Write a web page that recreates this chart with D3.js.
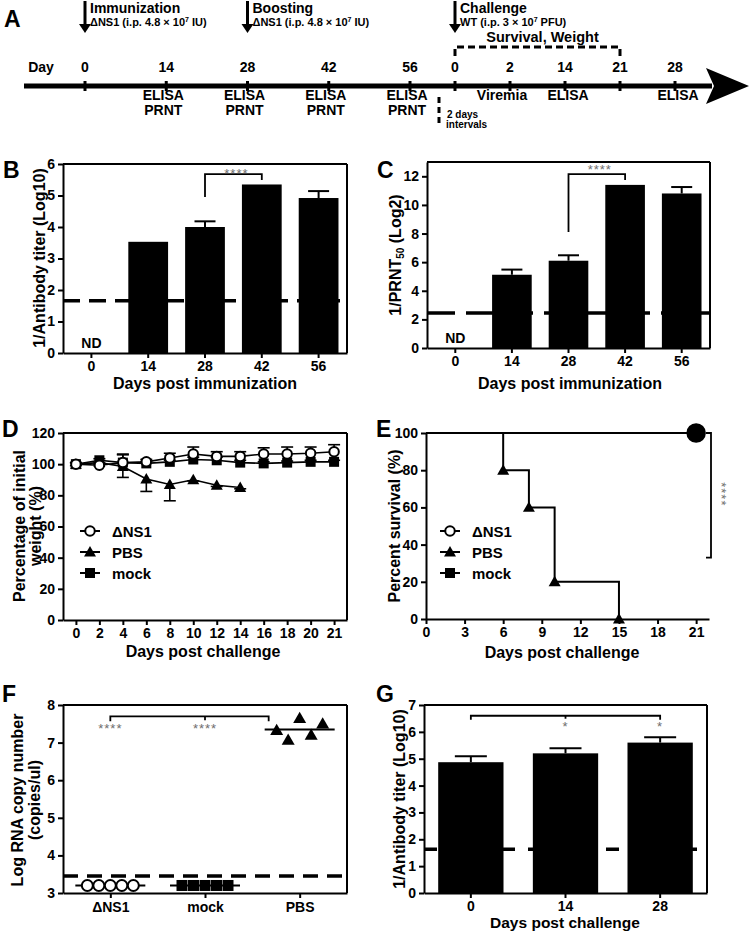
<!DOCTYPE html>
<html><head><meta charset="utf-8">
<script src="https://cdn.jsdelivr.net/npm/d3@7"></script>
<style>body{margin:0;background:#fff}</style>
</head><body>
<svg id="fig" width="750" height="931" xmlns="http://www.w3.org/2000/svg"></svg>
<script>
// ================= DATA =================
// Panel A timeline
const preDays = [0, 14, 28, 42, 56];
const preAssays = [[], ["ELISA","PRNT"], ["ELISA","PRNT"], ["ELISA","PRNT"], ["ELISA","PRNT"]];
const postDays = ["0", "2", "14", "21", "28"];
const postAssays = [[], ["Viremia"], ["ELISA"], [], ["ELISA"]];
const events = [
  {phase:"pre", day:0, title:"Immunization", sub:["ΔNS1 (i.p. 4.8 × 10","7"," IU)"]},
  {phase:"pre", day:28, title:"Boosting", sub:["ΔNS1 (i.p. 4.8 × 10","7"," IU)"]},
  {phase:"post", day:"0", title:"Challenge", sub:["WT (i.p. 3 × 10","7"," PFU)"]}
];

// Panel B (ELISA titer, log10)
const immunCats = ["0", "14", "28", "42", "56"];
const elisaTiter = [0, 3.53, 4.0, 5.35, 4.92];
const elisaErr = [0, 0, 0.18, 0, 0.22];
const elisaLOD = 1.66;
const yTicksB = [0, 1, 2, 3, 4, 5, 6];

// Panel C (PRNT50, log2)
const prntTiter = [0, 5.12, 6.1, 11.4, 10.8];
const prntErr = [0, 0.36, 0.38, 0, 0.45];
const prntLOD = 2.45;
const yTicksC = [0, 2, 4, 6, 8, 10, 12];

// Panel D (weight %)
const weightDays = ["0","2","4","6","8","10","12","14","16","18","20","21"];
const weightDNS1 = [100, 99.3, 101, 101.5, 104, 106.5, 105, 105, 106.5, 106.5, 107, 108];
const weightDNS1Err = [1, 1.5, 5.5, 1.5, 3, 4.5, 3, 3, 4, 4.5, 4, 4.5];
const weightMock = [100, 102.5, 101, 100.5, 101.5, 103, 102.5, 101, 100.5, 101, 101.5, 101.5];
const weightMockErr = [1, 1, 5, 1, 1, 1.5, 2, 1.5, 1, 1, 1, 1];
const weightPBS = [100, 101, 98.5, 90.5, 87, 90, 86.5, 85];
const weightPBSErr = [1, 1, 7, 8, 10.5, 0.8, 0.8, 0.8];
const yTicksD = [0, 20, 40, 60, 80, 100, 120];

// Panel E (survival %)
const survDNS1 = [[0, 100], [21, 100]];
const survMock = [[0, 100], [21, 100]];
const survPBS = [[0, 100], [6, 80], [8, 60], [10, 20], [15, 0]];
const xTicksE = [0, 3, 6, 9, 12, 15, 18, 21];
const yTicksE = [0, 20, 40, 60, 80, 100];

// Panel F (viremia, log RNA copies/ul)
const viremiaGroups = ["ΔNS1", "mock", "PBS"];
const viremiaDNS1 = [3.2, 3.2, 3.2, 3.2, 3.2];
const viremiaMock = [3.2, 3.2, 3.2, 3.2, 3.2];
const viremiaPBS = [7.33, 7.07, 7.65, 7.2, 7.5];
const viremiaLOD = 3.45;
const yTicksF = [3, 4, 5, 6, 7, 8];

// Panel G (post-challenge ELISA titer, log10)
const postCats = ["0", "14", "28"];
const postTiter = [4.87, 5.2, 5.6];
const postErr = [0.22, 0.19, 0.2];
const postLOD = 1.63;
const yTicksG = [0, 1, 2, 3, 4, 5, 6, 7];

// ================= DRAWING =================
const FONT = '"Liberation Sans", Arial, Helvetica, sans-serif';
const svg = d3.select("#fig");

function txt(g, x, y, s, size, o = {}) {
  const t = g.append("text").attr("x", x).attr("y", y).text(s)
    .style("font-family", FONT).style("font-size", size + "px")
    .style("font-weight", o.weight || "bold")
    .attr("fill", o.fill || "#000").attr("text-anchor", o.anchor || "start");
  if (o.rotate) t.attr("transform", `rotate(${o.rotate},${x},${y})`);
  if (o.ls) t.style("letter-spacing", o.ls + "px");
  return t;
}
function ln(g, x1, y1, x2, y2, w = 2, dash = null) {
  const l = g.append("line").attr("x1", x1).attr("y1", y1).attr("x2", x2).attr("y2", y2)
    .attr("stroke", "#000").attr("stroke-width", w);
  if (dash) l.attr("stroke-dasharray", dash);
  return l;
}
function styleAxis(g) {
  g.selectAll("path.domain").attr("stroke", "#000").attr("stroke-width", 2);
  g.selectAll(".tick line").attr("stroke", "#000").attr("stroke-width", 2);
  g.selectAll(".tick text").attr("fill", "#000").style("font-size", "14px")
    .style("font-weight", "bold").style("font-family", FONT);
}
function marker(g, type, x, y, size) {
  if (type === "circle") {
    g.append("circle").attr("cx", x).attr("cy", y).attr("r", size / 2)
      .attr("fill", "#fff").attr("stroke", "#000").attr("stroke-width", 2);
  } else if (type === "square") {
    g.append("rect").attr("x", x - size / 2).attr("y", y - size / 2).attr("width", size).attr("height", size).attr("fill", "#000");
  } else {
    const area = Math.sqrt(3) / 4 * size * size;
    g.append("path").attr("d", d3.symbol().type(d3.symbolTriangle).size(area)())
      .attr("transform", `translate(${x},${y + 1})`).attr("fill", "#000");
  }
}
function panelLetter(x, y, s) { txt(svg, x, y, s, 23); }

// ---------- Panel A ----------
(function () {
  const g = svg.append("g");
  const preX = d3.scaleLinear().domain([0, 56]).range([85, 410]);
  const postX = d3.scalePoint().domain(postDays).range([455, 675]);
  const ly = 86;
  panelLetter(4, 27, "A");
  ln(g, 24, ly, 712, ly, 5);
  g.append("path").attr("d", `M706,${ly - 18} L749,${ly} L706,${ly + 18} L714,${ly} Z`).attr("fill", "#000");
  txt(g, 41, 72, "Day", 14, {anchor: "middle"});
  preDays.forEach((d, i) => {
    const x = preX(d);
    ln(g, x, ly - 5, x, ly + 5, 3);
    txt(g, x, 72, String(d), 14, {anchor: "middle"});
    preAssays[i].forEach((a, j) => txt(g, x - 3, 100 + j * 15, a, 14, {anchor: "middle"}));
  });
  postDays.forEach((d, i) => {
    const x = postX(d);
    ln(g, x, ly - 5, x, ly + 5, 3);
    txt(g, x, 72, d, 14, {anchor: "middle"});
    const dx = d === "2" ? -8 : 3;
    postAssays[i].forEach((a, j) => txt(g, x + dx, 100 + j * 15, a, 14, {anchor: "middle"}));
  });
  // 2-day interval marker
  const xd = postX("0") - 16;
  ln(g, xd, 97, xd, 127, 3, "6,4");
  txt(g, xd + 8, 118, "2 days", 10);
  txt(g, xd + 7, 128, "intervals", 10);
  // Survival, weight bracket
  const bx0 = postX("0"), bx1 = postX("21");
  g.append("path").attr("d", `M${bx0},56 V47 H${bx1} V56`).attr("fill", "none")
    .attr("stroke", "#000").attr("stroke-width", 3).attr("stroke-dasharray", "7,4");
  txt(g, (bx0 + bx1) / 2 + 5, 42, "Survival, Weight", 14.5, {anchor: "middle"});
  // event arrows
  events.forEach(e => {
    const x = e.phase === "pre" ? preX(e.day) : postX(e.day);
    ln(g, x, 1, x, 26, 3);
    g.append("path").attr("d", `M${x - 6},24 L${x + 6},24 L${x},33 Z`).attr("fill", "#000");
    txt(g, x + 5, 13, e.title, 14);
    const t = txt(g, x + 5, 26, e.sub[0], 11);
    t.append("tspan").attr("dy", -4).style("font-size", "7px").text(e.sub[1]);
    t.append("tspan").attr("dy", 4).text(e.sub[2]);
  });
})();

// ---------- Bar panel helper (B, C, G) ----------
function barPanel(cfg) {
  const g = svg.append("g");
  const x = d3.scaleBand().domain(cfg.cats).range([cfg.x0, cfg.x1]).paddingInner(cfg.pi).paddingOuter(cfg.po);
  const y = d3.scaleLinear().domain(cfg.yDomain).range([cfg.yb, cfg.yt]);
  // detection limit
  ln(g, cfg.x0, y(cfg.lod), cfg.x1, y(cfg.lod), 3.5, cfg.dash);
  // error bars
  cfg.vals.forEach((v, i) => {
    if (cfg.errs[i] > 0) {
      const cx = x(cfg.cats[i]) + x.bandwidth() / 2;
      ln(g, cx, y(v), cx, y(v + cfg.errs[i]), 2);
      ln(g, cx - cfg.cap / 2, y(v + cfg.errs[i]), cx + cfg.cap / 2, y(v + cfg.errs[i]), 2);
    }
  });
  // bars
  g.selectAll("rect.bar").data(cfg.vals).join("rect").attr("class", "bar")
    .attr("x", (d, i) => x(cfg.cats[i])).attr("width", x.bandwidth())
    .attr("y", d => y(d)).attr("height", d => y(cfg.yDomain[0]) - y(d)).attr("fill", "#000");
  // ND labels
  cfg.vals.forEach((v, i) => {
    if (v === 0) txt(g, x(cfg.cats[i]) + x.bandwidth() / 2, cfg.yb - 5, "ND", 14, {anchor: "middle"});
  });
  // frame
  ln(g, cfg.x0, cfg.yt, cfg.x1, cfg.yt, 2);
  ln(g, cfg.x1, cfg.yt, cfg.x1, cfg.yb, 2);
  // axes
  const ya = g.append("g").attr("transform", `translate(${cfg.x0},0)`)
    .call(d3.axisLeft(y).tickValues(cfg.yTicks).tickFormat(d3.format("d")).tickSize(5).tickSizeOuter(0).tickPadding(3));
  styleAxis(ya);
  const xa = g.append("g").attr("transform", `translate(0,${cfg.yb})`)
    .call(d3.axisBottom(x).tickSize(5).tickSizeOuter(0).tickPadding(3));
  styleAxis(xa);
  return {g, x, y};
}
function bracket(g, x1, x2, yTop, yL, yR, w = 1.8) {
  g.append("path").attr("d", `M${x1},${yL} V${yTop} H${x2} V${yR}`).attr("fill", "none")
    .attr("stroke", "#000").attr("stroke-width", w);
}
function stars(g, x, y, s) {
  return txt(g, x, y, s, 13, {anchor: "middle", weight: "normal", fill: "#6e6e6e", ls: 1});
}

// ---------- Panel B ----------
(function () {
  panelLetter(3, 178, "B");
  const p = barPanel({cats: immunCats, vals: elisaTiter, errs: elisaErr, lod: elisaLOD,
    yDomain: [0, 6], yTicks: yTicksB, x0: 63, x1: 347, yb: 353, yt: 164, pi: 0.3, po: 0.15,
    cap: 21, dash: "17,9"});
  const cx = c => p.x(c) + p.x.bandwidth() / 2;
  bracket(p.g, cx("28"), cx("42"), p.y(5.68), p.y(4.95), p.y(5.49));
  stars(p.g, (cx("28") + cx("42")) / 2 + 3, p.y(5.68) + 4, "****");
  txt(svg, 45, 258, "1/Antibody titer (Log10)", 16, {anchor: "middle", rotate: -90});
  txt(svg, 205, 389, "Days post immunization", 16, {anchor: "middle"});
})();

// ---------- Panel C ----------
(function () {
  panelLetter(377, 178, "C");
  const p = barPanel({cats: immunCats, vals: prntTiter, errs: prntErr, lod: prntLOD,
    yDomain: [0, 13], yTicks: yTicksC, x0: 427, x1: 710, yb: 348, yt: 162, pi: 0.3, po: 0.15,
    cap: 21, dash: "28,11"});
  const cx = c => p.x(c) + p.x.bandwidth() / 2;
  bracket(p.g, cx("28"), cx("42"), p.y(12.15), p.y(8.1), p.y(11.75));
  stars(p.g, (cx("28") + cx("42")) / 2 + 3, p.y(12.15) - 0.5, "****");
  const t = txt(svg, 401, 255, "1/PRNT", 16, {anchor: "middle", rotate: -90});
  t.append("tspan").attr("dy", 3).style("font-size", "10px").text("50");
  t.append("tspan").attr("dy", -3).text(" (Log2)");
  txt(svg, 570, 389, "Days post immunization", 16, {anchor: "middle"});
})();

// ---------- Panel D ----------
(function () {
  const g = svg.append("g");
  panelLetter(2, 437, "D");
  const x = d3.scalePoint().domain(weightDays).range([63, 347]).padding(0.55);
  const y = d3.scaleLinear().domain([0, 120]).range([620, 433]);
  ln(g, 63, 433, 347, 433, 2);
  ln(g, 347, 433, 347, 620, 2);
  const series = [
    {vals: weightMock, err: weightMockErr, dir: 1, type: "square", size: 10},
    {vals: weightPBS, err: weightPBSErr, dir: -1, type: "triangle", size: 12},
    {vals: weightDNS1, err: weightDNS1Err, dir: 1, type: "circle", size: 9.5}
  ];
  const line = d3.line().x((d, i) => x(weightDays[i])).y(d => y(d));
  series.forEach(s => {
    g.append("path").datum(s.vals).attr("d", line).attr("fill", "none").attr("stroke", "#000").attr("stroke-width", 1.6);
  });
  series.forEach(s => {
    s.vals.forEach((v, i) => {
      const cx = x(weightDays[i]);
      const ye = y(v + s.dir * s.err[i]);
      ln(g, cx, y(v), cx, ye, 1.6);
      ln(g, cx - 6, ye, cx + 6, ye, 1.6);
    });
  });
  series.forEach(s => s.vals.forEach((v, i) => marker(g, s.type, x(weightDays[i]), y(v), s.size)));
  const ya = g.append("g").attr("transform", "translate(63,0)")
    .call(d3.axisLeft(y).tickValues(yTicksD).tickSize(5).tickSizeOuter(0).tickPadding(3));
  styleAxis(ya);
  const xa = g.append("g").attr("transform", "translate(0,620)")
    .call(d3.axisBottom(x).tickSize(5).tickSizeOuter(0).tickPadding(3));
  styleAxis(xa);
  // legend
  const leg = [["circle", "ΔNS1", 9.5], ["triangle", "PBS", 12], ["square", "mock", 10]];
  leg.forEach((l, i) => {
    const ly = 531 + i * 21;
    ln(g, 80, ly, 100, ly, 2);
    marker(g, l[0], 90, ly, l[2]);
    txt(g, 112, ly + 5.5, l[1], 15);
  });
  const yl = svg.append("g");
  txt(yl, 25, 526, "Percentage of initial", 16, {anchor: "middle", rotate: -90});
  txt(yl, 41, 526, "weight (%)", 16, {anchor: "middle", rotate: -90});
  txt(svg, 203, 657, "Days post challenge", 16, {anchor: "middle"});
})();

// ---------- Panel E ----------
(function () {
  const g = svg.append("g");
  panelLetter(376, 437, "E");
  const x = d3.scaleLinear().domain([0, 22]).range([426, 709]);
  const y = d3.scaleLinear().domain([0, 100]).range([619, 433]);
  const step = d3.line().x(d => x(d[0])).y(d => y(d[1])).curve(d3.curveStepAfter);
  [survDNS1, survMock, survPBS].forEach(s => {
    g.append("path").datum(s).attr("d", step).attr("fill", "none").attr("stroke", "#000").attr("stroke-width", 2);
  });
  const ya = g.append("g").attr("transform", `translate(${x(0)},0)`)
    .call(d3.axisLeft(y).tickValues(yTicksE).tickSize(5).tickSizeOuter(0).tickPadding(3));
  styleAxis(ya);
  const xa = g.append("g").attr("transform", `translate(0,${y(0)})`)
    .call(d3.axisBottom(x).tickValues(xTicksE).tickSize(5).tickSizeOuter(0).tickPadding(3));
  styleAxis(xa);
  survPBS.slice(1).forEach(d => marker(g, "triangle", x(d[0]), y(d[1]), 12));
  const last = survDNS1[survDNS1.length - 1];
  g.append("circle").attr("cx", x(last[0])).attr("cy", y(last[1])).attr("r", 8.5)
    .attr("fill", "#000").attr("stroke", "#000").attr("stroke-width", 2.5);
  const lm = survMock[survMock.length - 1];
  marker(g, "square", x(lm[0]), y(lm[1]), 11);
  // significance bracket
  const bx = 711;
  g.append("path").attr("d", `M${bx - 5},${y(100)} H${bx} V${y(33)} H${bx - 5}`).attr("fill", "none")
    .attr("stroke", "#000").attr("stroke-width", 1.8);
  stars(g, 717, y(67), "****").attr("transform", `rotate(90,717,${y(67)})`);
  const leg = [["circle", "ΔNS1", 9.5], ["triangle", "PBS", 12], ["square", "mock", 10]];
  leg.forEach((l, i) => {
    const ly = 531 + i * 21;
    ln(g, 440, ly, 460, ly, 2);
    marker(g, l[0], 450, ly, l[2]);
    txt(g, 472, ly + 5.5, l[1], 15);
  });
  txt(svg, 400, 526, "Percent survival (%)", 16, {anchor: "middle", rotate: -90});
  txt(svg, 562, 658, "Days post challenge", 16, {anchor: "middle"});
})();

// ---------- Panel F ----------
(function () {
  const g = svg.append("g");
  panelLetter(2, 702, "F");
  const x = d3.scalePoint().domain(viremiaGroups).range([63, 347]).padding(0.5);
  const y = d3.scaleLinear().domain([3, 8]).range([893, 705]);
  ln(g, 63, y(viremiaLOD), 347, y(viremiaLOD), 3.5, "15,9");
  ln(g, 63, 705, 347, 705, 2);
  ln(g, 347, 705, 347, 893, 2);
  const groups = [
    {name: "ΔNS1", vals: viremiaDNS1, type: "circle", size: 11},
    {name: "mock", vals: viremiaMock, type: "square", size: 11},
    {name: "PBS", vals: viremiaPBS, type: "triangle", size: 13}
  ];
  groups.forEach(gr => {
    const cx = x(gr.name);
    const m = d3.mean(gr.vals);
    ln(g, cx - 35, y(m), cx + 35, y(m), 2);
    gr.vals.forEach((v, i) => marker(g, gr.type, cx + (i - 2) * 11.5, y(v), gr.size));
  });
  const ya = g.append("g").attr("transform", "translate(63,0)")
    .call(d3.axisLeft(y).tickValues(yTicksF).tickFormat(d3.format("d")).tickSize(5).tickSizeOuter(0).tickPadding(3));
  styleAxis(ya);
  const xa = g.append("g").attr("transform", "translate(0,893)")
    .call(d3.axisBottom(x).tickSize(5).tickSizeOuter(0).tickPadding(4));
  styleAxis(xa);
  // significance
  const x1 = x("ΔNS1"), x2 = x("PBS") - 31, yb = y(7.7);
  bracket(g, x1, x2, yb, yb + 5, yb + 5);
  ln(g, x("mock"), yb, x("mock"), yb + 4, 1.8);
  stars(g, x1, yb + 17, "****");
  stars(g, x("mock"), yb + 17, "****");
  txt(svg, 23, 800, "Log RNA copy number", 16, {anchor: "middle", rotate: -90});
  txt(svg, 40, 800, "(copies/ul)", 16, {anchor: "middle", rotate: -90});
})();

// ---------- Panel G ----------
(function () {
  panelLetter(376, 702, "G");
  const p = barPanel({cats: postCats, vals: postTiter, errs: postErr, lod: postLOD,
    yDomain: [0, 7], yTicks: yTicksG, x0: 424, x1: 707, yb: 893, yt: 705, pi: 0.31, po: 0.15,
    cap: 32, dash: "13,13"});
  const cx = c => p.x(c) + p.x.bandwidth() / 2;
  const yb = p.y(6.6);
  bracket(p.g, cx("0"), cx("28"), yb, yb + 4, yb + 4);
  ln(p.g, cx("14"), yb, cx("14"), yb + 3, 1.8);
  stars(p.g, cx("14"), yb + 15, "*");
  stars(p.g, cx("28"), yb + 15, "*");
  txt(svg, 405, 799, "1/Antibody titer (Log10)", 16, {anchor: "middle", rotate: -90});
  txt(svg, 565, 928, "Days post challenge", 15.5, {anchor: "middle"});
})();
</script>
</body></html>
